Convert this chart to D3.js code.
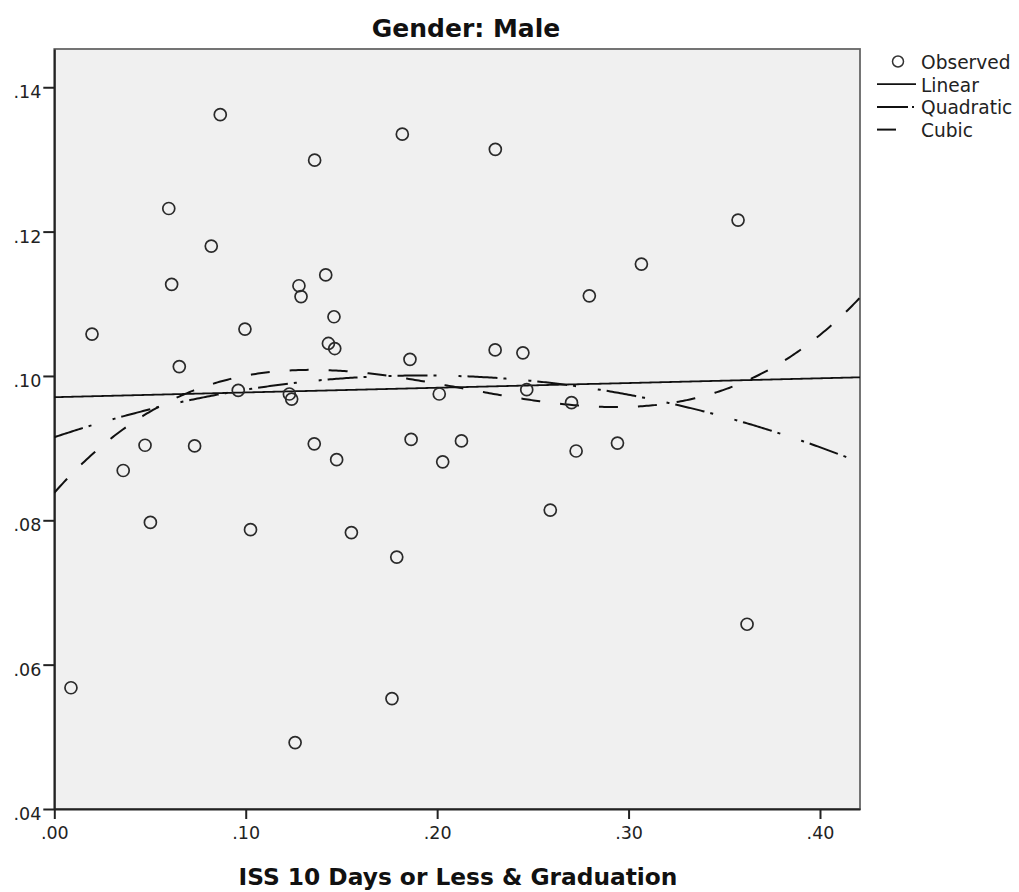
<!DOCTYPE html>
<html>
<head>
<meta charset="utf-8">
<script src="https://cdn.jsdelivr.net/npm/d3@7"></script>
<style>
  html, body { margin: 0; padding: 0; background: #fff; }
  svg { display: block; }
</style>
</head>
<body>
<div id="chart"></div>
<script>
// Observed proportions (x: ISS 10 days or less, y: graduation), male students
const obsX = [0.0087, 0.0197, 0.0360, 0.0474, 0.0502, 0.0598, 0.0613, 0.0653, 0.0733, 0.0820,
              0.0867, 0.0961, 0.0996, 0.1025, 0.1228, 0.1240, 0.1258, 0.1278, 0.1289, 0.1360,
              0.1358, 0.1418, 0.1432, 0.1461, 0.1465, 0.1475, 0.1552, 0.1764, 0.1789, 0.1818,
              0.1858, 0.1864, 0.2011, 0.2029, 0.2127, 0.2304, 0.2303, 0.2448, 0.2468, 0.2591,
              0.2702, 0.2726, 0.2795, 0.2942, 0.3067, 0.3572, 0.3619];
const obsY = [0.0568, 0.1058, 0.0869, 0.0904, 0.0797, 0.1232, 0.1127, 0.1013, 0.0903, 0.1180,
              0.1362, 0.0980, 0.1065, 0.0787, 0.0975, 0.0968, 0.0492, 0.1125, 0.1110, 0.1299,
              0.0906, 0.1140, 0.1045, 0.1082, 0.1038, 0.0884, 0.0783, 0.0553, 0.0749, 0.1335,
              0.1023, 0.0912, 0.0975, 0.0881, 0.0910, 0.1314, 0.1036, 0.1032, 0.0981, 0.0814,
              0.0963, 0.0896, 0.1111, 0.0907, 0.1155, 0.1216, 0.0656];

const xTicks = [0.00, 0.10, 0.20, 0.30, 0.40];
const yTicks = [0.04, 0.06, 0.08, 0.10, 0.12, 0.14];
const xDomain = [0, 0.4209];
const yDomain = [0.04, 0.1453];

const legendItems = ["Observed", "Linear", "Quadratic", "Cubic"];
const fitDegrees = [1, 2, 3];

const titleText = "Gender: Male";
const xTitle = "ISS 10 Days or Less & Graduation";

// least-squares polynomial fit of a given degree
function polyFit(xs, ys, deg) {
  const n = deg + 1;
  const A = Array.from({length: n}, () => new Array(n + 1).fill(0));
  for (let k = 0; k < xs.length; k++) {
    const p = [];
    for (let i = 0; i < n; i++) p.push(Math.pow(xs[k], i));
    for (let i = 0; i < n; i++) {
      for (let j = 0; j < n; j++) A[i][j] += p[i] * p[j];
      A[i][n] += p[i] * ys[k];
    }
  }
  for (let c = 0; c < n; c++) {
    let piv = c;
    for (let r = c + 1; r < n; r++) if (Math.abs(A[r][c]) > Math.abs(A[piv][c])) piv = r;
    [A[c], A[piv]] = [A[piv], A[c]];
    for (let r = 0; r < n; r++) {
      if (r === c) continue;
      const f = A[r][c] / A[c][c];
      for (let j = c; j <= n; j++) A[r][j] -= f * A[c][j];
    }
  }
  return A.map((row, i) => row[n] / row[i]);
}

const W = 1019, H = 892;
const plot = {left: 54.3, right: 860, top: 49, bottom: 809};

const svg = d3.select("#chart").append("svg")
  .attr("width", W).attr("height", H)
  .style("font-family", "'DejaVu Sans', sans-serif");

const x = d3.scaleLinear().domain(xDomain).range([plot.left, plot.right]);
const y = d3.scaleLinear().domain(yDomain).range([plot.bottom, plot.top]);

// plot background and frame
svg.append("rect")
  .attr("x", plot.left).attr("y", plot.top)
  .attr("width", plot.right - plot.left).attr("height", plot.bottom - plot.top)
  .attr("fill", "#f0f0f0")
  .attr("stroke", "#666").attr("stroke-width", 1.8);

svg.append("defs").append("clipPath").attr("id", "plotClip")
  .append("rect")
  .attr("x", plot.left).attr("y", plot.top)
  .attr("width", plot.right - plot.left).attr("height", plot.bottom - plot.top);

const fmt = d => d3.format(".2f")(d).replace(/^0/, "");

// axes
const xAxis = svg.append("g")
  .attr("transform", `translate(0,${plot.bottom})`)
  .call(d3.axisBottom(x).tickValues(xTicks).tickFormat(fmt).tickSize(10).tickSizeOuter(0));
const yAxis = svg.append("g")
  .attr("transform", `translate(${plot.left},0)`)
  .call(d3.axisLeft(y).tickValues(yTicks).tickFormat(fmt).tickSize(11).tickSizeOuter(0));

[xAxis, yAxis].forEach(g => {
  g.select(".domain").attr("stroke", "#222").attr("stroke-width", 2);
  g.selectAll(".tick line").attr("stroke", "#222").attr("stroke-width", 2);
  g.selectAll(".tick text")
    .attr("fill", "#222")
    .style("font-family", "'DejaVu Sans', sans-serif")
    .style("font-size", "17.5px");
});
xAxis.selectAll(".tick text").attr("y", 18).attr("dy", "0.71em");
yAxis.selectAll(".tick text").attr("x", -13).attr("dy", "0.6em");

// fitted curves
const curves = svg.append("g").attr("clip-path", "url(#plotClip)");
const dashes = {1: null, 2: "30,6,3,22,3,6", 3: "19,20"};
const samples = d3.range(0, 401).map(i => xDomain[0] + (xDomain[1] - xDomain[0]) * i / 400);
fitDegrees.forEach(deg => {
  const coef = polyFit(obsX, obsY, deg);
  const f = v => coef.reduce((s, c, i) => s + c * Math.pow(v, i), 0);
  curves.append("path")
    .datum(samples)
    .attr("d", d3.line().x(d => x(d)).y(d => y(f(d))))
    .attr("fill", "none")
    .attr("stroke", "#111")
    .attr("stroke-width", deg === 1 ? 1.8 : 2)
    .attr("stroke-dasharray", dashes[deg]);
});

// observed points
svg.append("g").selectAll("circle")
  .data(obsX.map((v, i) => [v, obsY[i]]))
  .join("circle")
  .attr("cx", d => x(d[0])).attr("cy", d => y(d[1]))
  .attr("r", 6)
  .attr("fill", "none")
  .attr("stroke", "#2a2a2a")
  .attr("stroke-width", 1.7);

// title and axis title
svg.append("text")
  .attr("x", 466).attr("y", 37)
  .attr("text-anchor", "middle")
  .style("font-family", "'DejaVu Sans', sans-serif")
  .style("font-weight", "bold").style("font-size", "25px")
  .attr("fill", "#111")
  .text(titleText);

svg.append("text")
  .attr("x", 458).attr("y", 885)
  .attr("text-anchor", "middle")
  .style("font-family", "'DejaVu Sans', sans-serif")
  .style("font-weight", "bold").style("font-size", "23.3px")
  .attr("fill", "#111")
  .text(xTitle);

// legend
const legend = svg.append("g");
const rowY = i => 69 + i * 22.7;
legendItems.forEach((name, i) => {
  const ly = rowY(i) - 7.5;
  if (i === 0) {
    legend.append("circle").attr("cx", 898).attr("cy", ly)
      .attr("r", 5.5).attr("fill", "none").attr("stroke", "#333").attr("stroke-width", 1.5);
  } else if (i === 1) {
    legend.append("line").attr("x1", 877).attr("x2", 916).attr("y1", ly).attr("y2", ly)
      .attr("stroke", "#111").attr("stroke-width", 1.8);
  } else if (i === 2) {
    legend.append("line").attr("x1", 877).attr("x2", 916).attr("y1", ly).attr("y2", ly)
      .attr("stroke", "#111").attr("stroke-width", 2).attr("stroke-dasharray", "31,4,2,10");
  } else {
    legend.append("line").attr("x1", 877).attr("x2", 916).attr("y1", ly).attr("y2", ly)
      .attr("stroke", "#111").attr("stroke-width", 2).attr("stroke-dasharray", "19,20");
  }
  legend.append("text").attr("x", 921).attr("y", rowY(i))
    .style("font-family", "'DejaVu Sans', sans-serif")
    .style("font-size", "18.6px")
    .attr("fill", "#222")
    .text(name);
});
</script>
</body>
</html>
